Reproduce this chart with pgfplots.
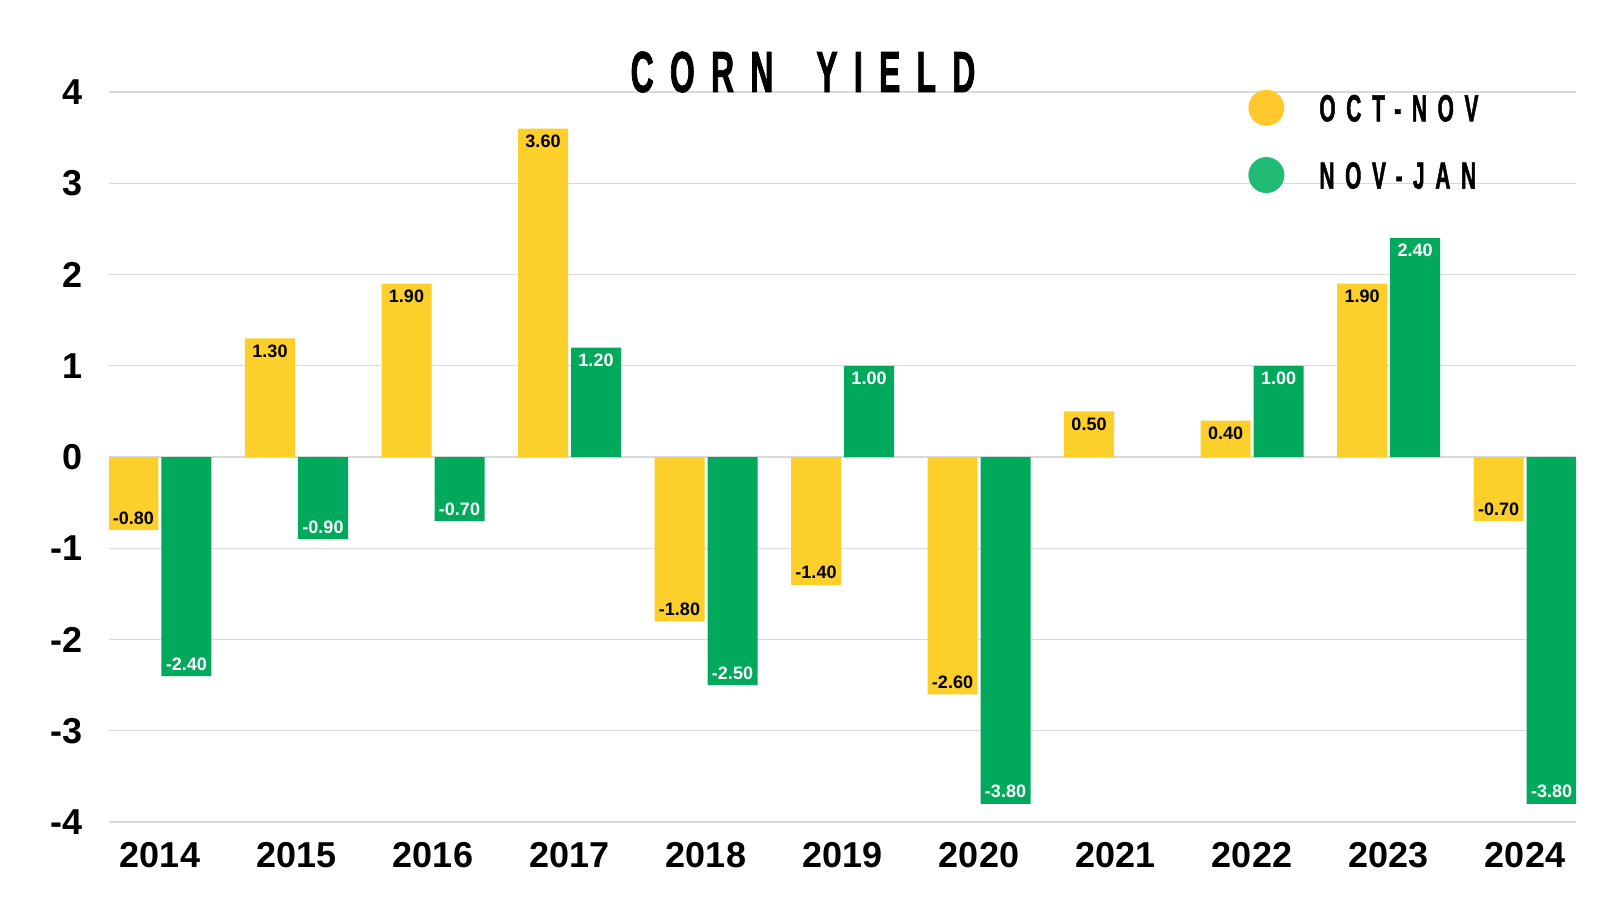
\documentclass[border=0pt]{standalone}
\usepackage{fontspec}
\setmainfont{Liberation Sans}
\newfontfamily\bebas[FakeStretch=0.55,LetterSpace=28,FakeBold=1.2]{Liberation Sans}
\usepackage{pgfplots}
\pgfplotsset{compat=1.18}
\usepackage{pgfplotstable}

\definecolor{cornY}{HTML}{FDCF2A}
\definecolor{cornG}{HTML}{00A95C}
\definecolor{legY}{HTML}{FFC92E}
\definecolor{legG}{HTML}{21BB73}

% year index, Oct-Nov, Nov-Jan
\pgfplotstableread{
x  octnov novjan
0  -0.8   -2.4
1   1.3   -0.9
2   1.9   -0.7
3   3.6    1.2
4  -1.8   -2.5
5  -1.4    1.0
6  -2.6   -3.8
7   0.5    nan
8   0.4    1.0
9   1.9    2.4
10 -0.7   -3.8
}\corndata

\begin{document}
\begin{tikzpicture}
\begin{axis}[
  scale only axis,
  width=733.5pt, height=365pt,
  ybar=1.5pt, bar width=25pt,
  xmin=-0.3736, xmax=10.3736,
  ymin=-4, ymax=4,
  xtick={0,...,10},
  xticklabels={2014,2015,2016,2017,2018,2019,2020,2021,2022,2023,2024},
  ytick={-4,...,4},
  /pgf/number format/assume math mode=true,
  tick label style={font=\fontsize{18}{20}\selectfont\bfseries},
  yticklabel style={inner sep=0pt, xshift=-13pt},
  xticklabel style={inner sep=0pt, yshift=-5.5pt},
  axis line style={draw=none},
  tick style={draw=none},
  ymajorgrids,
  major grid style={color=black!15, line width=0.6pt},
  extra y ticks={0},
  extra y tick labels={},
  extra y tick style={grid style={color=black!50, line width=0.7pt}},
  legend style={at={(0.7764,1.0035)}, anchor=north west, draw=none, fill=none,
    inner sep=0pt, row sep=15.6pt, column sep=0pt,
    nodes={inner sep=0pt, font=\bebas\bfseries\fontsize{19}{20}\selectfont}},
  legend cell align=left,
  nodes near coords,
  visualization depends on=y \as \rawy,
  every node near coord/.append style={anchor=center,
    font=\fontsize{9}{10}\selectfont\bfseries,
    /pgf/number format/.cd, fixed, fixed zerofill, precision=2, assume math mode=true,
    /tikz/.cd, yshift={\rawy>0 ? -6.3 : 6}},
]
\addplot[draw=none, fill=cornY,
  legend image code/.code={\fill[legY] (9pt,0.9pt) circle (9pt);},
  nodes near coords style={text=black}]
  table[x=x, y=octnov] {\corndata};
\addlegendentry{\hspace{17.5pt}OCT-NOV}
\addplot[draw=none, fill=cornG,
  legend image code/.code={\fill[legG] (9pt,0.9pt) circle (9pt);},
  nodes near coords style={text=white}]
  table[x=x, y=novjan] {\corndata};
\addlegendentry{\hspace{17.5pt}NOV-JAN}
\end{axis}
\node[anchor=base, inner sep=0pt] at (347pt,365pt)
  {\bebas\bfseries\fontsize{29}{30}\selectfont CORN\hspace{9pt} YIELD};
\pgfresetboundingbox
\path[use as bounding box] (-54.5pt,-39pt) rectangle (745.5pt,411pt);
\end{tikzpicture}
\end{document}
